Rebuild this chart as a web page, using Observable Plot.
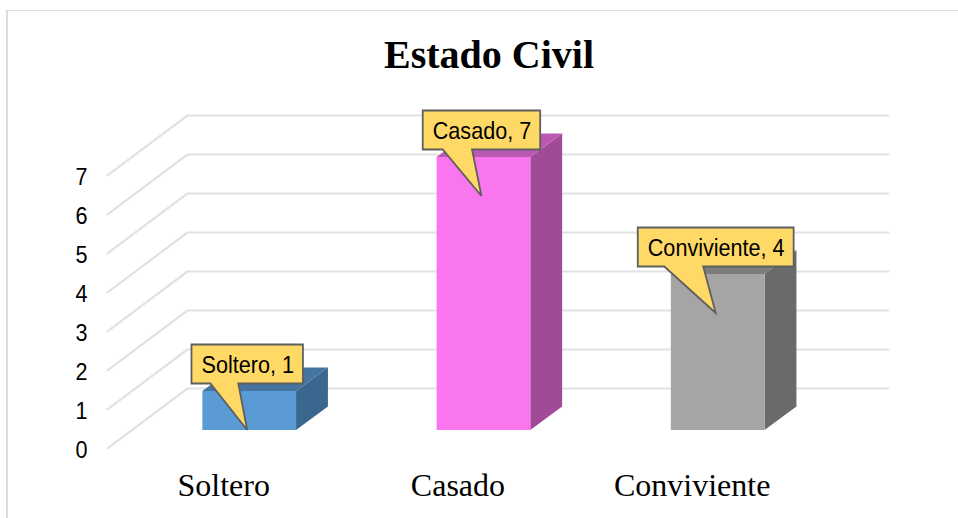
<!DOCTYPE html>
<html>
<head>
<meta charset="utf-8">
<script src="https://cdn.jsdelivr.net/npm/d3@7"></script>
<script src="https://cdn.jsdelivr.net/npm/@observablehq/plot@0.6"></script>
<style>
html,body{margin:0;padding:0;background:#fff;width:958px;height:518px;overflow:hidden}
#frame{position:absolute;left:6px;top:9.5px;right:0;bottom:0;border-left:2px solid #dcdcdc;border-top:1.5px solid #dcdcdc}
#chart{position:absolute;left:0;top:0}
.grid{filter:blur(.5px)}
.bar-front,.bar-side,.bar-top{filter:blur(.6px)}
</style>
</head>
<body>
<div id="frame"></div>
<div id="chart"></div>
<script>
const categories = ["Soltero", "Casado", "Conviviente"];
const values = [1, 7, 4];
const frontColors = ["#5b9bd5", "#fa76ee", "#a5a5a5"];
const sideColors = ["#3b668d", "#a04a98", "#6a6a6a"];
const topColors = ["#44749f", "#bb58b2", "#7c7c7c"];
const yTicks = [0, 1, 2, 3, 4, 5, 6, 7];

const title = "Estado Civil";

// 3D projection, in data units
const halfBar = 0.2, depthX = 0.136, depthY = 0.6;
const wallBackX = -0.2655, wallFrontX = -0.607, wallRightX = 2.727;
const wallBackY = 1.077, wallFrontY = -0.46;

const W = 958, H = 518;
const xUnit = 234.25, x0 = 249.2, yUnit = 39, y0 = 430;

const bars = categories.map((c, i) => ({c, i, v: values[i]}));

const grid = yTicks.flatMap(t => [
  {t, x: wallFrontX, y: t + wallFrontY},
  {t, x: wallBackX, y: t + wallBackY},
  {t, x: wallRightX, y: t + wallBackY}
]);

const sides = bars.flatMap(b => [
  {c: b.c, i: b.i, x: b.i + halfBar, y1: 0, y2: b.v},
  {c: b.c, i: b.i, x: b.i + halfBar + depthX, y1: depthY, y2: b.v + depthY}
]);
const tops = bars.flatMap(b => [
  {c: b.c, i: b.i, x1: b.i - halfBar, x2: b.i + halfBar, y: b.v},
  {c: b.c, i: b.i, x1: b.i - halfBar + depthX, x2: b.i + halfBar + depthX, y: b.v + depthY}
]);

const labelFont = '"Liberation Sans", Arial, sans-serif';
const serifFont = '"Liberation Serif", "Times New Roman", serif';
const squeeze = 0.9;
const ctx = document.createElement("canvas").getContext("2d");
ctx.font = `24px ${labelFont}`;
const labelText = b => `${b.c}, ${b.v}`;

const tag = name => (i, s, v, d, c, next) => {
  const g = next(i, s, v, d, c);
  g.setAttribute("class", name);
  return g;
};

function callouts(index, scales) {
  const g = d3.create("svg:g").attr("class", "callout-shapes");
  for (const b of bars) {
    const tipX = scales.x(b.i) - 2, tipY = scales.y(b.v - 1);
    const w = ctx.measureText(labelText(b)).width * squeeze + 19;
    const l = tipX - w / 2, r = tipX + w / 2, t = tipY - 85.5, bt = tipY - 46.5;
    const a = l + w * 0.17, c = l + w * 0.42;
    g.append("path")
      .attr("d", `M${l},${t}H${r}V${bt}H${c}L${tipX},${tipY}L${a},${bt}H${l}Z`)
      .attr("fill", "#ffd966").attr("stroke", "#5f5f5f").attr("stroke-width", 1.8)
      .attr("stroke-linejoin", "miter");
  }
  return g.node();
}

const plot = Plot.plot({
  width: W, height: H,
  marginLeft: 0, marginRight: 0, marginTop: 0, marginBottom: 0,
  style: {background: "transparent"},
  x: {type: "linear", domain: [-x0 / xUnit, (W - x0) / xUnit], range: [0, W], axis: null},
  y: {type: "linear", domain: [(y0 - H) / yUnit, y0 / yUnit], range: [H, 0], axis: null},
  marks: [
    Plot.line(grid, {x: "x", y: "y", z: "t", stroke: "#e2e2e2", strokeWidth: 2.2, render: tag("grid")}),
    Plot.area(sides, {x1: "x", x2: "x", y1: "y1", y2: "y2", z: "c", fill: d => sideColors[d.i], render: tag("bar-side")}),
    Plot.area(tops, {x1: "x1", x2: "x2", y1: "y", y2: "y", z: "c", fill: d => topColors[d.i], render: tag("bar-top")}),
    Plot.rect(bars, {x1: d => d.i - halfBar, x2: d => d.i + halfBar, y1: 0, y2: "v", fill: d => frontColors[d.i], render: tag("bar-front")}),
    Plot.text(yTicks, {x: wallFrontX, y: d => d + wallFrontY, dx: -26, dy: 1.5, text: d => String(d), fontSize: 24,
      fontFamily: labelFont, fill: "#000", textAnchor: "middle", render: tag("squeezed")}),
    Plot.text(bars, {x: "i", y: wallFrontY - 0.1, dx: -26, dy: 21, text: "c", fontSize: 32,
      fontFamily: serifFont, fill: "#000", textAnchor: "middle", lineAnchor: "top"}),
    callouts,
    Plot.text(bars, {x: "i", y: d => d.v - 1, dx: -2, dy: -65.5, text: labelText, fontSize: 24,
      fontFamily: labelFont, fill: "#000", textAnchor: "middle", render: tag("squeezed")}),
    Plot.text([title], {frameAnchor: "top", dy: 39, dx: 9.5, text: d => d, fontSize: 40, fontWeight: "bold",
      fontFamily: serifFont, fill: "#000", lineAnchor: "top"})
  ]
});

// narrow the sans labels, as in the reference
d3.select(plot).selectAll(".squeezed text").each(function() {
  const tr = this.getAttribute("transform") || "";
  this.setAttribute("transform", `${tr} scale(${squeeze},1)`);
});
document.getElementById("chart").append(plot);
</script>
</body>
</html>
